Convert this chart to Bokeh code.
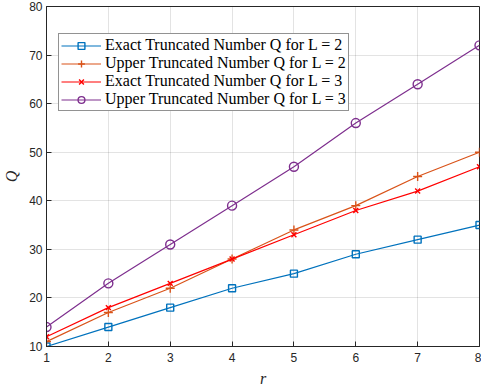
from bokeh.plotting import figure
from bokeh.models import Legend, LegendItem, Range1d, FixedTicker
from bokeh.embed import file_html
from bokeh.resources import INLINE

# Truncation numbers Q as a function of r
r = [1, 2, 3, 4, 5, 6, 7, 8]
exact_L2 = [10, 14, 18, 22, 25, 29, 32, 35]
upper_L2 = [11, 17, 22, 28, 34, 39, 45, 50]
exact_L3 = [12, 18, 23, 28, 33, 38, 42, 47]
upper_L3 = [14, 23, 31, 39, 47, 56, 64, 72]
y_ticks = [10, 20, 30, 40, 50, 60, 70, 80]

labels = [
    "Exact Truncated Number Q for L = 2",
    "Upper Truncated Number Q for L = 2",
    "Exact Truncated Number Q for L = 3",
    "Upper Truncated Number Q for L = 3",
]
colors = ["#0072BD", "#D95319", "#FF0000", "#7E2F8E"]
markers = ["square", "cross", "x", "circle"]
msizes = [7, 9, 7, 9]
series = [exact_L2, upper_L2, exact_L3, upper_L3]

p = figure(width=481, height=389, output_backend="svg", toolbar_location=None,
           x_range=Range1d(1, 8), y_range=Range1d(10, 80),
           min_border_left=46, min_border_right=2, min_border_top=6,
           min_border_bottom=42)

items = []
for ys, lab, c, m, s in zip(series, labels, colors, markers, msizes):
    ln = p.line(r, ys, line_color=c, line_width=1.2)
    sc = p.scatter(r, ys, marker=m, size=s, line_color=c, fill_color=None,
                   line_width=1.4)
    items.append(LegendItem(label=lab, renderers=[ln, sc]))

legend = Legend(items=items, location=(12, 235), orientation="vertical",
                label_text_font="Liberation Serif", label_text_font_size="16px",
                label_text_color="#000000", label_height=17, glyph_height=17,
                glyph_width=40, label_standoff=4, spacing=0, padding=2,
                margin=0, border_line_color="#262626", border_line_width=1,
                background_fill_color="white", background_fill_alpha=1.0)
p.add_layout(legend, "center")

p.xaxis.ticker = FixedTicker(ticks=r)
p.yaxis.ticker = FixedTicker(ticks=y_ticks)

for ax in (p.xaxis[0], p.yaxis[0]):
    ax.axis_line_color = "#262626"
    ax.major_tick_line_color = "#262626"
    ax.major_tick_in = 5
    ax.major_tick_out = 0
    ax.minor_tick_line_color = None
    ax.major_label_text_font = "Liberation Sans"
    ax.major_label_text_font_size = "12px"
    ax.major_label_text_color = "#262626"
    ax.axis_label_text_font = "Liberation Serif"
    ax.axis_label_text_font_style = "italic"
    ax.axis_label_text_font_size = "16px"
    ax.axis_label_text_color = "#262626"

p.xaxis.axis_label = "r"
p.yaxis.axis_label = "Q"
p.xaxis.major_label_standoff = 6
p.yaxis.major_label_standoff = 4
p.xaxis.axis_label_standoff = 5
p.yaxis.axis_label_standoff = 6

p.grid.grid_line_color = "#262626"
p.grid.grid_line_alpha = 0.13
p.outline_line_color = "#262626"
p.outline_line_alpha = 1.0
p.background_fill_color = "white"
p.border_fill_color = "white"

open("out.html", "w").write(file_html(p, INLINE))
